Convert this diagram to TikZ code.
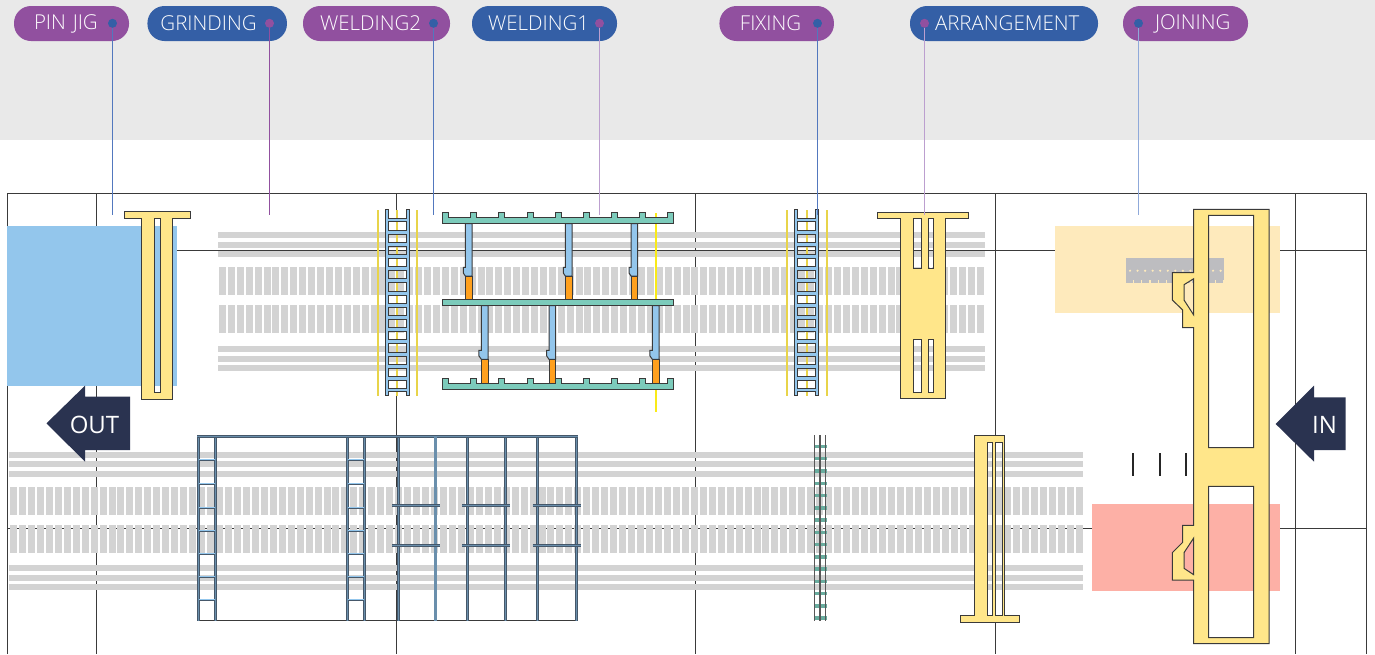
\documentclass[tikz,border=0pt]{standalone}
\usepackage{xcolor}
\usepackage{fontspec}
\setmainfont{Open Sans Light}
\newfontfamily\arrowfont{Open Sans}
\usepackage{tikz}
\usetikzlibrary{positioning}

\definecolor{bandgrey}{HTML}{E9E9E9}
\definecolor{stripegrey}{HTML}{D3D3D3}
\definecolor{pillpurple}{HTML}{91509F}
\definecolor{pillblue}{HTML}{345FA6}
\definecolor{leadblue}{HTML}{5278BE}
\definecolor{leadpale}{HTML}{BC9FCF}
\definecolor{leadsky}{HTML}{8FA9DA}
\definecolor{navyarrow}{HTML}{2A3350}
\definecolor{jigyellow}{HTML}{FFE68A}
\definecolor{lineyellow}{HTML}{E8D44A}
\definecolor{skyblue}{HTML}{93C6EC}
\definecolor{railgreen}{HTML}{7CCBBB}
\definecolor{toporange}{HTML}{FFA01E}
\definecolor{creamzone}{HTML}{FEEABC}
\definecolor{redzone}{HTML}{FDB0A6}
\definecolor{blockgrey}{HTML}{BDBDC0}
\definecolor{steelblue}{HTML}{6A8FAC}
\definecolor{steeledge}{HTML}{46586A}
\definecolor{darkline}{HTML}{3A3A3A}

\tikzset{
        pill/.style={rounded corners=17pt, minimum height=35pt, inner sep=0pt, text=white,
                text width=#1, align=left, font=\fontsize{20.5}{21}\selectfont},
        pindot/.style={circle, minimum size=9pt, inner sep=0pt},
        leader/.style={line width=1pt},
        gridline/.style={draw=darkline, line width=1pt},
        jig/.style={draw=darkline, fill=jigyellow, line width=1pt, even odd rule},
        post/.style={draw=darkline, line width=1pt},
        steel/.style={draw=steeledge, line width=0.6pt, double=steelblue, double distance=1.8pt},
        rung/.style={draw=steeledge, line width=0.5pt, double=skyblue, double distance=1pt},
        bigarrow/.style={fill=navyarrow, draw=none},
        arrowtext/.style={text=white, inner sep=0pt, font=\arrowfont\fontsize{24}{24}\selectfont}
}

\begin{document}
\begin{tikzpicture}[x=1pt,y=-1pt]
        \useasboundingbox (0,0) rectangle (1375,654);
        \fill[bandgrey] (0,0) rectangle (1375,140);

        % grid of the bay
        \draw[gridline] (7.5,654) -- (7.5,193.5) -- (1366.5,193.5) -- (1366.5,654);
        \foreach \gx in {96.5,396.5,695.5,995.5,1295.5}
                \draw[gridline] (\gx,193.5) -- (\gx,654);
        \foreach \gy in {250.5,528.5}
                \draw[gridline] (7.5,\gy) -- (1366.5,\gy);

        \fill[skyblue] (7,226) rectangle (177,386);
        \fill[creamzone] (1055,226) rectangle (1280,313);
        \fill[redzone] (1092,504) rectangle (1280,591);

        % upper track
        \foreach \sy in {232,242,250.7,346,355.5,365}
                \fill[stripegrey] (218,\sy) rectangle (985,\sy+6);
        \foreach \i in {0,...,85} {
                \fill[stripegrey] ({219+\i*8.914},267) rectangle ++(7,28);
                \fill[stripegrey] ({219+\i*8.914},305) rectangle ++(7,28);
        }

        % lower track
        \foreach \sy in {452,461,471,565,575,584}
                \fill[stripegrey] (9,\sy) rectangle (1083,\sy+6);
        \foreach \i in {0,...,119} {
                \fill[stripegrey] ({10+\i*8.958},487) rectangle ++(7,28);
                \fill[stripegrey] ({10+\i*8.958},525) rectangle ++(7,28);
        }

        % block in the joining zone
        \fill[blockgrey] (1126,257.5) rectangle (1224,283);
        \foreach \i in {0,...,12}
                \fill[creamzone] ({1130+\i*7.55},270.7) circle (1.2);
        \foreach \i in {0,...,11}
                \fill[creamzone] ({1133+\i*8.2},279.5) rectangle ++(1.2,3.5);

        % yellow lines
        \foreach \lx in {378,396.7,417,787,806.7,826.7}
                \draw[lineyellow, line width=1.8pt] (\lx,210) -- (\lx,396);
        \draw[yellow!75!lineyellow, line width=2.4pt] (655.7,213) -- (655.7,411.7);

        % ladders
        \foreach \lx in {385.5,794.5} {
                \begin{scope}[shift={(\lx,0)}]
                        \draw[post, fill=skyblue, even odd rule] (0,209) -- (3,209) -- (3,218) -- (21,218) -- (21,209) -- (24,209)
                                -- (24,395.7) -- (21,395.7) -- (21,391.7) -- (3,391.7) -- (3,395.7) -- (0,395.7) -- cycle
                                \foreach \i in {0,...,13} { (3,{221.9+\i*12.2}) rectangle ++(18,8.2) };
                \end{scope}
        }

        % posts between the rails
        \foreach \cx in {465.3,565.3,631} {
                \draw[post, fill=skyblue] (\cx,223.7) -- (\cx,267.3) -- (\cx-2,267.3) -- (\cx-2,273) -- (\cx,276)
                        -- (\cx+6.7,276) -- (\cx+6.7,223.7) -- cycle;
                \draw[post, fill=toporange] (\cx,276) rectangle (\cx+6.7,299);
        }
        \foreach \cx in {481.3,549,652.3} {
                \draw[post, fill=skyblue] (\cx,305.7) -- (\cx,350.3) -- (\cx-2.5,350.3) -- (\cx-2.5,355.7) -- (\cx,359.3)
                        -- (\cx+6.7,359.3) -- (\cx+6.7,305.7) -- cycle;
                \draw[post, fill=toporange] (\cx,359.3) rectangle (\cx+6.7,383.3);
        }

        % rails
        \foreach \ry in {0,166} {
                \begin{scope}[yshift=-\ry pt]
                        \draw[post, fill=railgreen] (442.7,223.7) -- (442.7,212.7) -- (448.7,212.7) -- (448.7,217.3)
                                \foreach \tx in {470.7,498.7,527,555.3,583.7,611.7,639.7} { -- (\tx,217.3) -- (\tx,212.7) -- (\tx+6,212.7) -- (\tx+6,217.3) }
                                -- (667.7,217.3) -- (667.7,212.7) -- (673.7,212.7) -- (673.7,223.7) -- cycle;
                \end{scope}
        }
        \draw[post, fill=railgreen] (442.7,299) rectangle (673.7,305.7);

        % yellow jigs
        \draw[jig] (124,211.7) -- (190.5,211.7) -- (190.5,218.7) -- (172.7,218.7) -- (172.7,399) -- (141.7,399) -- (141.7,218.7) -- (124,218.7) -- cycle
                (154.3,218.7) rectangle (160,392);
        \draw[jig] (877,212) -- (968.7,212) -- (968.7,218.7) -- (945.3,218.7) -- (945.3,398.7) -- (900.7,398.7) -- (900.7,218.7) -- (877,218.7) -- cycle
                (913.3,218.7) rectangle (921.7,268) (928,218.7) rectangle (933.3,268)
                (913.3,339.3) rectangle (921.7,392.3) (928,339.3) rectangle (933.3,392.3);
        \draw[jig] (974.7,435.3) -- (1004.3,435.3) -- (1004.3,615.3) -- (1019.3,615.3) -- (1019.3,622.7) -- (960,622.7) -- (960,615.3) -- (974.7,615.3) -- cycle
                (987.3,442.3) rectangle (992.7,615.7) (995.7,442.3) rectangle (1002,615.7);
        \draw[jig] (1193.7,209.3) -- (1269,209.3) -- (1269,643.7) -- (1193.7,643.7) -- (1193.7,580) -- (1172.3,580) -- (1172.3,552.7) -- (1182.7,542.3)
                -- (1182.7,525.3) -- (1193.7,525.3) -- (1193.7,327.7) -- (1182.7,327.7) -- (1182.7,310) -- (1172.3,300) -- (1172.3,272.7) -- (1193.7,272.7) -- cycle
                (1208.7,215.3) rectangle (1253.7,447.7) (1208.7,486.3) rectangle (1253.7,637.7)
                (1193.7,278.7) -- (1184,284.7) -- (1184,300) -- (1193.7,315) -- cycle
                (1193.7,538) -- (1184,552.7) -- (1184,568.3) -- (1193.7,574.7) -- cycle;

        \foreach \tx in {1133,1160,1186}
                \draw[black!85, line width=2pt] (\tx,453.3) -- (\tx,475.7);

        % steel frame, lower left
        \draw[darkline, line width=1.4pt] (197,620.5) -- (577,620.5);
        \foreach \fx in {198.5,215.5,347.5,364.5,398.5,467.5,505.5,537.5,576.5}
                \draw[steel] (\fx,435.5) -- (\fx,621);
        \draw[steel] (197,436.5) -- (578,436.5);
        \draw[steelblue, line width=3pt] (435.5,437) -- (435.5,621);
        \foreach \ry in {459.5,483.5,507.5,530.5,553.5,576.5,599.5} {
                \draw[rung] (199,\ry) -- (215,\ry);
                \draw[rung] (348,\ry) -- (364,\ry);
        }
        \foreach \bx in {392,462,532.7} {
                \draw[steel] (\bx,505.5) -- (\bx+48,505.5);
                \draw[steel] (\bx,545.5) -- (\bx+48,545.5);
        }

        % thin ladder, lower track
        \foreach \i in {0,...,14}
                \fill[railgreen!85!black] (813.5,{444.7+\i*12.27}) rectangle (826.5,{448.2+\i*12.27});
        \foreach \vx in {814.5,820,825.5}
                \draw[darkline!85, line width=1.7pt] (\vx,435.3) -- (\vx,621.3);

        % out and in
        \fill[bigarrow] (46.5,423.3) -- (85,385.7) -- (85,396.7) -- (130,396.7) -- (130,450) -- (85,450) -- (85,461.7) -- cycle;
        \node[arrowtext] (outlabel) at (94.5,425) {OUT};
        \fill[bigarrow] (1275.7,424) -- (1314,385.7) -- (1314,397.3) -- (1345.7,397.3) -- (1345.7,450) -- (1314,450) -- (1314,461.7) -- cycle;
        \node[arrowtext] (inlabel) at (1324.5,425) {IN};

        % station tags
        \node[pill=115pt, fill=pillpurple] (pinjig) at (71.5,23.5) {\hspace*{20pt}PIN JIG};
        \node[pill=139.5pt, fill=pillblue] (grinding) at (217.2,23.5) {\hspace*{13pt}GRINDING};
        \node[pill=147pt, fill=pillpurple] (weldingtwo) at (376.5,23.5) {\hspace*{17pt}WELDING2};
        \node[pill=145pt, fill=pillblue] (weldingone) at (544.5,23.5) {\hspace*{16pt}WELDING1};
        \node[pill=114.5pt, fill=pillpurple] (fixing) at (776.7,23.5) {\hspace*{20.5pt}FIXING};
        \node[pill=188pt, fill=pillblue] (arrangement) at (1004,23.5) {\hspace*{25pt}ARRANGEMENT};
        \node[pill=125pt, fill=pillpurple] (joining) at (1185.5,23.5) {\hspace*{32pt}JOINING};

        \foreach \nm/\dx/\dc/\lc in {pinjig/112.5/pillblue/leadblue, grinding/269.5/pillpurple/pillpurple,
                        weldingtwo/433.5/pillblue/leadblue, weldingone/599.5/pillpurple/leadpale, fixing/817.5/pillblue/leadblue,
                        arrangement/924.5/pillpurple/leadpale, joining/1138.5/pillblue/leadsky} {
                \node[pindot, fill=\dc] (\nm dot) at (\dx,23.3) {};
                \coordinate (\nm end) at (\dx,214.5);
                \draw[leader, \lc] (\nm dot) -- (\nm end);
        }
\end{tikzpicture}
\end{document}
